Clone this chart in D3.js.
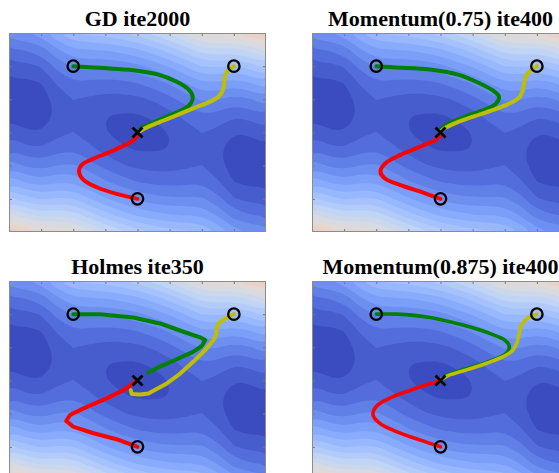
<!DOCTYPE html>
<html>
<head>
<meta charset="utf-8">
<script src="https://cdn.jsdelivr.net/npm/d3@7"></script>
<style>
  body { margin: 0; background: #fff; }
  svg { display: block; overflow: hidden; }
  .title { font-family: "Liberation Serif", "Times New Roman", serif; font-weight: bold; font-size: 22px; }
</style>
</head>
<body>
<svg id="chart" width="559" height="473"></svg>
<script>
// loss surface, as colormap fraction * 100
// columns: x = -4 .. 4 step 0.5, rows: y = 3 .. -3 step 0.5
const gridX = [-4, -3.5, -3, -2.5, -2, -1.5, -1, -0.5, 0, 0.5, 1, 1.5, 2, 2.5, 3, 3.5, 4];
const gridY = [3, 2.5, 2, 1.5, 1, 0.5, 0, -0.5, -1, -1.5, -2, -2.5, -3];
const lossGrid = [
  [16.5, 17.6, 20.1, 25.8, 30.1, 31.1, 32.0, 33.6, 36.0, 39.3, 43.2, 47.9, 52.6, 53.9, 53.8, 57.0, 61.5],
  [ 9.6, 10.3, 12.3, 17.6, 21.5, 22.0, 22.5, 23.7, 25.6, 28.5, 32.0, 36.2, 40.5, 41.4, 40.8, 43.5, 47.6],
  [ 4.5,  4.7,  6.3, 11.2, 14.6, 14.7, 14.7, 15.5, 17.0, 19.4, 22.5, 26.3, 30.1, 30.6, 29.6, 31.8, 35.5],
  [ 1.1,  0.9,  2.1,  6.5,  9.5,  9.1,  8.7,  9.1, 10.1, 12.1, 14.7, 18.1, 21.5, 21.5, 20.1, 21.9, 25.1],
  [-0.5, -1.2, -0.4,  3.6,  6.1,  5.3,  4.5,  4.4,  5.0,  6.5,  8.7, 11.7, 14.6, 14.2, 12.3, 13.7, 16.5],
  [ 1.1, -0.3, -0.4,  2.7,  4.5,  3.2,  2.0,  1.5,  1.6,  2.7,  4.5,  7.0,  9.5,  8.6,  6.3,  7.3,  9.6],
  [ 4.5,  2.6,  2.1,  4.8,  6.1,  4.1,  2.0,  0.6,  0.0,  0.6,  2.0,  4.1,  6.1,  4.8,  2.1,  2.6,  4.5],
  [ 9.6,  7.3,  6.3,  8.6,  9.5,  7.0,  4.5,  2.7,  1.6,  1.5,  2.0,  3.2,  4.5,  2.7, -0.4, -0.3,  1.1],
  [16.5, 13.7, 12.3, 14.2, 14.6, 11.7,  8.7,  6.5,  5.0,  4.4,  4.5,  5.3,  6.1,  3.6, -0.4, -1.2, -0.5],
  [25.1, 21.9, 20.1, 21.5, 21.5, 18.1, 14.7, 12.1, 10.1,  9.1,  8.7,  9.1,  9.5,  6.5,  2.1,  0.9,  1.1],
  [35.5, 31.8, 29.6, 30.6, 30.1, 26.3, 22.5, 19.4, 17.0, 15.5, 14.7, 14.7, 14.6, 11.2,  6.3,  4.7,  4.5],
  [47.6, 43.5, 40.8, 41.4, 40.5, 36.2, 32.0, 28.5, 25.6, 23.7, 22.5, 22.0, 21.5, 17.6, 12.3, 10.3,  9.6],
  [61.5, 57.0, 53.8, 53.9, 52.6, 47.9, 43.2, 39.3, 36.0, 33.6, 32.0, 31.1, 30.1, 25.8, 20.1, 17.6, 16.5]
];
const lossLevels = d3.range(-2, 70, 4);

const xTicks = [-3, -2, -1, 0, 1, 2, 3];
const yTicks = [-2, -1, 0, 1, 2];

const titles = ["GD ite2000", "Momentum(0.75) ite400", "Holmes ite350", "Momentum(0.875) ite400"];

const starts = [[-2, 2], [3, 2], [0, -2]];
const minimum = [0, 0];

// trajectories, [x, y]
const gdGreen = [[-2, 2], [-1.17, 1.95], [-0.13, 1.88], [0.6, 1.76], [1.22, 1.53], [1.59, 1.3], [1.72, 1.08], [1.66, 0.88], [1.43, 0.7], [0.91, 0.48], [0.39, 0.26], [0.08, 0.1], [0, 0]];
const gdYellow = [[3, 2], [2.83, 1.88], [2.73, 1.73], [2.7, 1.53], [2.66, 1.28], [2.52, 1.08], [2.26, 0.93], [1.74, 0.73], [1.12, 0.48], [0.6, 0.28], [0.18, 0.1], [0, 0]];
const gdRed = [[0, -2], [-0.65, -1.85], [-1.27, -1.65], [-1.68, -1.43], [-1.82, -1.18], [-1.74, -0.98], [-1.42, -0.81], [-0.85, -0.58], [-0.33, -0.35], [-0.07, -0.18], [0, -0.02]];

const mom75Green = [[-2, 2], [-1.37, 1.96], [-0.33, 1.9], [0.6, 1.73], [1.22, 1.48], [1.64, 1.26], [1.82, 1.08], [1.74, 0.88], [1.48, 0.73], [0.91, 0.53], [0.39, 0.33], [0.08, 0.16], [0, 0.03]];
const mom75Yellow = [[3, 2], [2.83, 1.88], [2.68, 1.73], [2.6, 1.48], [2.55, 1.23], [2.42, 1.03], [2.16, 0.88], [1.64, 0.68], [1.02, 0.48], [0.5, 0.3], [0.13, 0.13], [0, 0.02]];
const mom75Red = [[0, -2], [-0.54, -1.81], [-1.27, -1.58], [-1.74, -1.38], [-1.87, -1.18], [-1.74, -0.95], [-1.37, -0.73], [-0.85, -0.51], [-0.39, -0.33], [-0.13, -0.21], [0, -0.08]];

const holmesGreen = [[-2, 2], [-1.17, 2.0], [-0.13, 1.9], [0.7, 1.72], [1.43, 1.47], [1.95, 1.3], [2.11, 1.22], [2.0, 1.04], [1.74, 0.87], [1.22, 0.64], [0.7, 0.42], [0.34, 0.24]];
const holmesYellow = [[3, 2], [2.78, 1.9], [2.52, 1.72], [2.47, 1.6], [2.45, 1.4], [2.37, 1.22], [2.11, 0.92], [1.74, 0.57], [1.33, 0.21], [0.91, -0.09], [0.34, -0.39], [0.08, -0.42], [-0.18, -0.41], [-0.21, -0.29]];
const holmesRed = [[0, -2], [-0.65, -1.77], [-1.37, -1.59], [-2.0, -1.39], [-2.22, -1.22], [-2.1, -1.04], [-1.68, -0.84], [-0.96, -0.54], [-0.44, -0.29], [-0.07, -0.04]];

const mom875Green = [[-2, 2], [-1.37, 2.0], [-0.33, 1.9], [0.7, 1.67], [1.53, 1.42], [2.0, 1.22], [2.14, 1.04], [2.05, 0.82], [1.64, 0.62], [1.02, 0.42], [0.5, 0.27], [0.13, 0.12], [0.03, 0.02]];
const mom875Yellow = [[3, 2], [2.73, 1.9], [2.52, 1.67], [2.45, 1.42], [2.39, 1.17], [2.26, 0.92], [1.95, 0.72], [1.43, 0.52], [0.81, 0.32], [0.29, 0.17], [0.03, 0.04]];
const mom875Red = [[0, -2], [-0.65, -1.79], [-1.37, -1.54], [-1.89, -1.29], [-2.1, -1.04], [-2.0, -0.78], [-1.58, -0.53], [-0.96, -0.3], [-0.44, -0.13], [-0.08, -0.03]];

const runs = [
  [gdGreen, gdYellow, gdRed],
  [mom75Green, mom75Yellow, mom75Red],
  [holmesGreen, holmesYellow, holmesRed],
  [mom875Green, mom875Yellow, mom875Red]
];

// ---- layout / style
const axW = 257, axH = 199;
const panelPos = [[9, 33], [312, 33], [9, 281], [312, 281]];
const pathColors = ["#008000", "#bfbf00", "#ff0000"];
const curves = [d3.curveCatmullRom, d3.curveCatmullRom, d3.curveLinear, d3.curveCatmullRom];
const coolwarm = ["#3b4cc0", "#5977e3", "#7b9ff9", "#9ebeff", "#c0d4f5", "#dddcdc",
                  "#f2cbb7", "#f7ac8e", "#ee8468", "#d65244", "#b40426"];
const color = d3.piecewise(d3.interpolateRgb, coolwarm);

const svg = d3.select("#chart");
const x = d3.scaleLinear().domain([-4, 4]).range([0, axW]);
const y = d3.scaleLinear().domain([-3, 3]).range([axH, 0]);

// filled contours from the grid
const nx = gridX.length, ny = gridY.length;
const bands = d3.contours().size([nx, ny]).thresholds(lossLevels)(lossGrid.flat());
const gx = d3.scaleLinear().domain([0.5, nx - 0.5]).range([gridX[0], gridX[nx - 1]]);
const gy = d3.scaleLinear().domain([0.5, ny - 0.5]).range([gridY[0], gridY[ny - 1]]);
const ring = d3.line()
  .curve(d3.curveBasisClosed)
  .x(p => x(gx(p[0])))
  .y(p => y(gy(p[1])));
const bandPath = b => b.coordinates.map(poly => poly.map(r => ring(r.slice(0, -1))).join("")).join("");
const bandColor = v => color(Math.max(0, (v + 2) / 100));

runs.forEach((paths, i) => {
  const [px, py] = panelPos[i];
  const g = svg.append("g").attr("transform", `translate(${px},${py})`);

  g.append("clipPath").attr("id", "clip" + i)
    .append("rect").attr("width", axW).attr("height", axH);

  const body = g.append("g").attr("clip-path", `url(#clip${i})`);

  body.append("rect").attr("width", axW).attr("height", axH).attr("fill", bandColor(lossLevels[0]));

  body.selectAll("path.band")
    .data(bands)
    .join("path")
    .attr("class", "band")
    .attr("d", bandPath)
    .attr("fill", d => bandColor(d.value));

  const line = d3.line().x(d => x(d[0])).y(d => y(d[1])).curve(curves[i]);

  body.selectAll("path.traj")
    .data(paths)
    .join("path")
    .attr("class", "traj")
    .attr("d", line)
    .attr("fill", "none")
    .attr("stroke", (d, k) => pathColors[k])
    .attr("stroke-width", i === 3 ? 3.6 : 4)
    .attr("stroke-linecap", "round")
    .attr("stroke-linejoin", "round");

  body.selectAll("circle.start")
    .data(starts)
    .join("circle")
    .attr("class", "start")
    .attr("cx", d => x(d[0]))
    .attr("cy", d => y(d[1]))
    .attr("r", 5.7)
    .attr("fill", "none")
    .attr("stroke", "#000")
    .attr("stroke-width", 2.3);

  const mx = x(minimum[0]), my = y(minimum[1]), s = 5;
  body.append("path")
    .attr("d", `M${mx - s},${my - s}L${mx + s},${my + s}M${mx - s},${my + s}L${mx + s},${my - s}`)
    .attr("stroke", "#000")
    .attr("stroke-width", 2.8);

  // ticks inside on all four sides, no labels
  const tickCol = "#777";
  const axes = [
    [d3.axisBottom(x).tickValues(xTicks), `translate(0,${axH})`],
    [d3.axisTop(x).tickValues(xTicks), "translate(0,0)"],
    [d3.axisLeft(y).tickValues(yTicks), "translate(0,0)"],
    [d3.axisRight(y).tickValues(yTicks), `translate(${axW},0)`]
  ];
  axes.forEach(([ax, tr]) => {
    g.append("g")
      .attr("transform", tr)
      .call(ax.tickSize(-3).tickFormat(""))
      .call(a => a.select(".domain").remove())
      .call(a => a.selectAll("line").attr("stroke", tickCol));
  });

  g.append("rect")
    .attr("x", 0.5).attr("y", 0.5)
    .attr("width", axW - 1).attr("height", axH - 1)
    .attr("fill", "none")
    .attr("stroke", "#8c8c8c")
    .attr("stroke-width", 1);

  g.append("text")
    .attr("class", "title")
    .attr("x", axW / 2)
    .attr("y", -7)
    .attr("text-anchor", "middle")
    .text(titles[i]);
});
</script>
</body>
</html>
